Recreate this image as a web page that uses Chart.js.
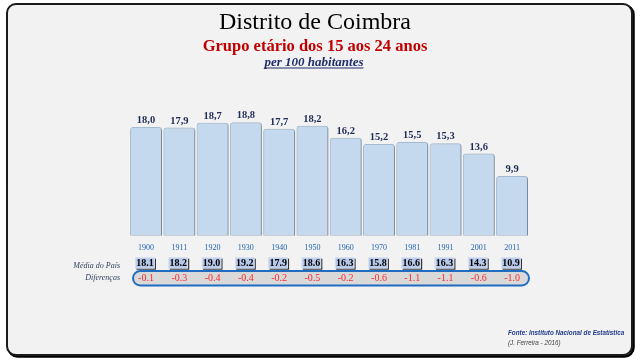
<!DOCTYPE html>
<html>
<head>
<meta charset="utf-8">
<script src="https://cdn.jsdelivr.net/npm/chart.js@4.4.1/dist/chart.umd.min.js"></script>
<style>
html,body{margin:0;padding:0;background:#fff;}
#wrap{width:640px;height:360px;}
</style>
</head>
<body>
<div id="wrap"><canvas id="c" width="640" height="360"></canvas></div>
<script>
const title = 'Distrito de Coimbra';
const subtitle = 'Grupo etário dos 15 aos 24 anos';
const unitLabel = 'per 100 habitantes';
const years = ['1900','1911','1920','1930','1940','1950','1960','1970','1981','1991','2001','2011'];
const districtValues = [18.0,17.9,18.7,18.8,17.7,18.2,16.2,15.2,15.5,15.3,13.6,9.9];
const nationalValues = [18.1,18.2,19.0,19.2,17.9,18.6,16.3,15.8,16.6,16.3,14.3,10.9];
const differenceValues = [-0.1,-0.3,-0.4,-0.4,-0.2,-0.5,-0.2,-0.6,-1.1,-1.1,-0.6,-1.0];
const rowLabels = ['Média do País','Diferenças'];
const sourceText = 'Fonte: Instituto Nacional de Estatística';
const authorText = '(J. Ferreira - 2016)';

const SERIF = '"Liberation Serif", "DejaVu Serif", serif';
const SANS = '"Liberation Sans", Arial, sans-serif';

const framePlugin = {
  id: 'frame',
  beforeDraw(chart) {
    const ctx = chart.ctx;
    ctx.save();
    ctx.fillStyle = '#ffffff';
    ctx.fillRect(0, 0, chart.width, chart.height);
    ctx.beginPath();
    ctx.roundRect(8.5, 5.5, 625, 351, 9);
    ctx.lineWidth = 2.5;
    ctx.strokeStyle = '#000';
    ctx.stroke();
    ctx.beginPath();
    ctx.roundRect(7, 4, 625, 351, 9);
    ctx.fillStyle = '#f2f2f2';
    ctx.fill();
    ctx.lineWidth = 2;
    ctx.strokeStyle = '#1a1a1a';
    ctx.stroke();
    ctx.restore();
  },
  beforeDatasetsDraw(chart) {
    const ctx = chart.ctx;
    ctx.save();
    ctx.shadowColor = 'rgba(0,0,0,0.35)';
    ctx.shadowOffsetX = 1;
    ctx.shadowOffsetY = 1;
    ctx.shadowBlur = 1.5;
  },
  afterDatasetsDraw(chart) {
    const ctx = chart.ctx;
    ctx.restore();
    const xs = chart.scales.x;
    const meta = chart.getDatasetMeta(0);
    ctx.save();
    ctx.textAlign = 'center';
    ctx.textBaseline = 'alphabetic';
    ctx.font = 'bold 10.5px ' + SERIF;
    ctx.fillStyle = '#1f2a55';
    meta.data.forEach((bar, i) => {
      ctx.fillText(districtValues[i].toFixed(1).replace('.', ','), bar.x, bar.y - 4);
    });
    ctx.font = '8px ' + SERIF;
    ctx.fillStyle = '#1f62b0';
    ctx.textBaseline = 'middle';
    years.forEach((y, i) => {
      ctx.fillText(y, xs.getPixelForValue(i), 248);
    });
    nationalValues.forEach((v, i) => {
      const x = xs.getPixelForValue(i) - 1;
      const w = 19.5, h = 11, top = 257.5;
      ctx.fillStyle = '#333';
      ctx.fillRect(x - w / 2 + 1.2, top + 1.2, w, h);
      ctx.fillStyle = '#b7c9ea';
      ctx.fillRect(x - w / 2, top, w, h);
      ctx.strokeStyle = '#dbe3f3';
      ctx.lineWidth = 0.8;
      ctx.strokeRect(x - w / 2 + 0.4, top + 0.4, w - 0.8, h - 0.8);
      ctx.fillStyle = '#000';
      ctx.font = 'bold 10px ' + SERIF;
      ctx.fillText(v.toFixed(1), x, top + h / 2 + 0.5);
    });
    ctx.beginPath();
    ctx.roundRect(133, 271, 396, 14.5, 7.25);
    ctx.fillStyle = '#d9d9d9';
    ctx.fill();
    ctx.lineWidth = 2;
    ctx.strokeStyle = '#1f6cc0';
    ctx.stroke();
    ctx.font = '10px ' + SERIF;
    ctx.fillStyle = '#ff2828';
    differenceValues.forEach((v, i) => {
      ctx.fillText(v.toFixed(1), xs.getPixelForValue(i), 278.5);
    });
    ctx.textAlign = 'right';
    ctx.font = 'italic 8px ' + SERIF;
    ctx.fillStyle = '#35425f';
    ctx.fillText(rowLabels[0], 120, 265.5);
    ctx.fillText(rowLabels[1], 120, 278);
    ctx.textAlign = 'center';
    ctx.textBaseline = 'alphabetic';
    ctx.fillStyle = '#000';
    ctx.font = '24px ' + SERIF;
    ctx.fillText(title, 315, 29);
    ctx.fillStyle = '#c00000';
    ctx.font = 'bold 16.5px ' + SERIF;
    ctx.fillText(subtitle, 315, 51);
    ctx.fillStyle = '#1f2d6b';
    ctx.font = 'bold italic 13px ' + SERIF;
    ctx.fillText(unitLabel, 314, 66);
    const uw = ctx.measureText(unitLabel).width;
    ctx.fillRect(314 - uw / 2, 67.5, uw, 1);
    ctx.textAlign = 'left';
    ctx.font = 'bold italic 6.3px ' + SANS;
    ctx.fillStyle = '#1f3a8a';
    ctx.fillText(sourceText, 508, 335);
    ctx.font = 'italic 6.3px ' + SANS;
    ctx.fillStyle = '#404040';
    ctx.fillText(authorText, 508, 345);
    ctx.restore();
  }
};

new Chart(document.getElementById('c'), {
  type: 'bar',
  data: {
    labels: years,
    datasets: [{
      data: districtValues,
      backgroundColor: '#c5d9ee',
      borderColor: '#a7bbd2',
      borderWidth: 1,
      borderSkipped: 'bottom',
      borderRadius: { topLeft: 3, topRight: 3 },
      barPercentage: 0.96,
      categoryPercentage: 1.0
    }]
  },
  options: {
    responsive: false,
    animation: false,
    devicePixelRatio: 1,
    layout: { padding: { left: 129.4, right: 111.3, top: 114.9, bottom: 124.3 } },
    plugins: { legend: { display: false }, tooltip: { enabled: false }, title: { display: false } },
    scales: {
      x: { display: false, offset: true },
      y: { display: false, min: 0, max: 20 }
    }
  },
  plugins: [framePlugin]
});
</script>
</body>
</html>
